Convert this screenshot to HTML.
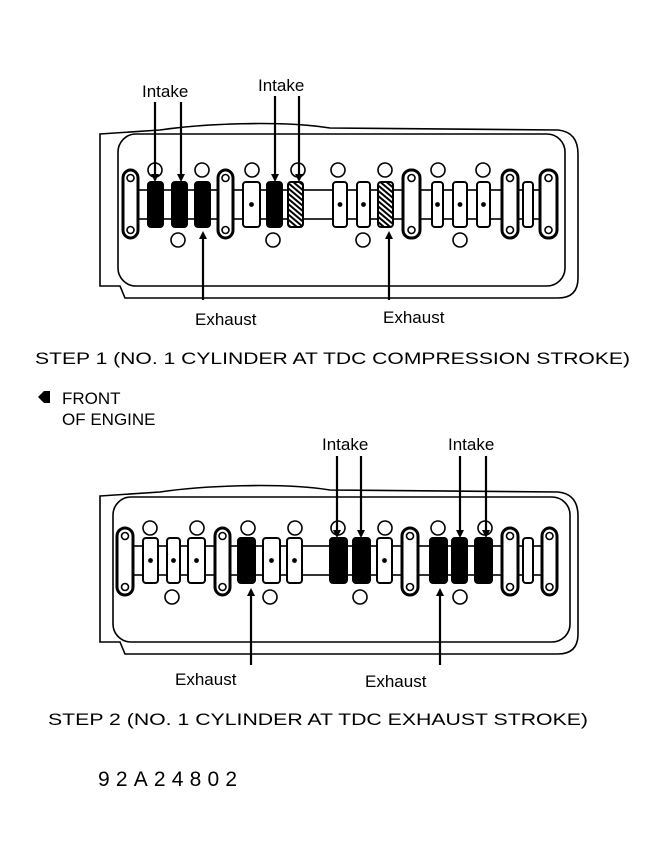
<!DOCTYPE html>
<html><head><meta charset="utf-8"><style>
html,body{margin:0;padding:0;background:#fff;}
svg{display:block;}
text{font-family:"Liberation Sans",sans-serif;fill:#000;}
</style></head><body>
<svg id="s" width="666" height="862" viewBox="0 0 666 862" xmlns="http://www.w3.org/2000/svg">
<defs>
<pattern id="h" width="4" height="4" patternUnits="userSpaceOnUse" patternTransform="rotate(-50)">
<rect width="4" height="4" fill="#fff"/><rect width="2" height="4" fill="#000"/></pattern>
<marker id="a" markerWidth="8" markerHeight="8" refX="6" refY="4" orient="auto" markerUnits="userSpaceOnUse"><path d="M0,0 L8,4 L0,8 z" fill="#000"/></marker>
</defs>
<g id="g" stroke="#000" fill="none" stroke-width="1.6"></g>
<text x="142" y="97" font-size="17">Intake</text>
<text x="258" y="91" font-size="17">Intake</text>
<text x="195" y="325" font-size="17">Exhaust</text>
<text x="383" y="323" font-size="17">Exhaust</text>
<text x="35" y="364" font-size="17" textLength="595" lengthAdjust="spacingAndGlyphs">STEP 1 (NO. 1 CYLINDER AT TDC COMPRESSION STROKE)</text>
<path d="M38,397 L44,391 L50,391 L50,403 L44,403 z" fill="#000"/>
<text x="62" y="404" font-size="17">FRONT</text>
<text x="62" y="425" font-size="17">OF ENGINE</text>
<text x="322" y="450" font-size="17">Intake</text>
<text x="448" y="450" font-size="17">Intake</text>
<text x="175" y="685" font-size="17">Exhaust</text>
<text x="365" y="687" font-size="17">Exhaust</text>
<text x="48" y="725" font-size="17" textLength="540" lengthAdjust="spacingAndGlyphs">STEP 2 (NO. 1 CYLINDER AT TDC EXHAUST STROKE)</text>
<text x="98" y="786" font-size="21" font-family="Liberation Mono" textLength="139" lengthAdjust="spacing">92A24802</text>
</svg>
<script>
var g=document.getElementById('g'),S='';
function r(x,y,w,h,rx,f,sw){S+='<rect x="'+x+'" y="'+y+'" width="'+w+'" height="'+h+'" rx="'+(rx||0)+'" fill="'+(f||'#fff')+'" stroke-width="'+(sw||1.6)+'"/>';}
function c(x,y,rr,f){S+='<circle cx="'+x+'" cy="'+y+'" r="'+rr+'" fill="'+(f||'#fff')+'"/>';}
function l(x1,y1,x2,y2,m){S+='<line x1="'+x1+'" y1="'+y1+'" x2="'+x2+'" y2="'+y2+'" stroke-width="2.2"'+(m?' marker-end="url(#a)"':'')+'/>';}
function diag(o,top,bot,bt,bb,lobes,brk,ct,cb){
 // outlines
 S+='<path d="M'+(o[0])+','+(o[1]+10)+' L'+(o[0]+60)+','+(o[1]+6)+' C'+(o[0]+100)+','+(o[1])+' '+(o[0]+180)+','+(o[1]-4)+' '+(o[0]+230)+','+(o[1]+4)+' L'+(o[2]-20)+','+(o[1]+6)+' Q'+o[2]+','+(o[1]+8)+' '+o[2]+','+(o[1]+30)+' L'+o[2]+','+(o[3]-20)+' Q'+o[2]+','+o[3]+' '+(o[2]-20)+','+o[3]+' L'+(o[0]+25)+','+o[3]+' L'+(o[0]+20)+','+(o[3]-12)+' L'+o[0]+','+(o[3]-12)+' Z"/>';
 r(o[4],o[5],o[6]-o[4],o[7]-o[5],18,'none');
 // shaft
 r(brk[0][0],top+8,brk[brk.length-1][1]-brk[0][0],bot-top-16,0);
 lobes.forEach(function(L){r(L[0],top,L[1]-L[0],bot-top,3,L[2]=='b'?'#000':L[2]=='h'?'url(#h)':'#fff',2);if(L[2]=='w')c((L[0]+L[1])/2,(top+bot)/2,1.6,'#000');});
 brk.forEach(function(B){r(B[0],bt,B[1]-B[0],bb-bt,8,'#fff',3);c((B[0]+B[1])/2,bt+8,3.5);c((B[0]+B[1])/2,bb-8,3.5);});
 ct[1].forEach(function(x){c(x,ct[0],7);});cb[1].forEach(function(x){c(x,cb[0],7);});
}
diag([100,124,578,298,118,134,565,286],182,227,170,238,
 [[148,163,'b'],[172,187,'b'],[195,210,'b'],[243,260,'w'],[267,282,'b'],[288,303,'h'],[333,347,'w'],[357,370,'w'],[378,393,'h'],[432,443,'w'],[453,467,'w'],[477,490,'w'],[523,533,'w2']],
 [[123,138],[218,233],[403,420],[502,518],[540,557]],[170,[155,202,252,298,338,385,438,483]],[240,[178,273,363,460]]);
diag([100,486,578,654,113,497,570,642],538,583,528,595,
 [[143,158,'w'],[167,180,'w'],[188,205,'w'],[238,255,'b'],[263,280,'w'],[287,302,'w'],[330,347,'b'],[353,370,'b'],[377,392,'w'],[430,447,'b'],[452,467,'b'],[475,492,'b'],[523,533,'w2']],
 [[117,133],[215,230],[402,418],[502,518],[542,557]],[528,[150,197,248,295,338,385,438,485]],[597,[172,270,360,460]]);
l(155,102,155,180,1);l(181,102,181,180,1);l(275,96,275,180,1);l(299,96,299,180,1);
l(203,300,203,233,1);l(389,300,389,233,1);
l(337,456,337,536,1);l(361,456,361,536,1);l(460,456,460,536,1);l(486,456,486,536,1);
l(251,665,251,590,1);l(440,665,440,590,1);
g.innerHTML=S;
</script>
</body></html>
